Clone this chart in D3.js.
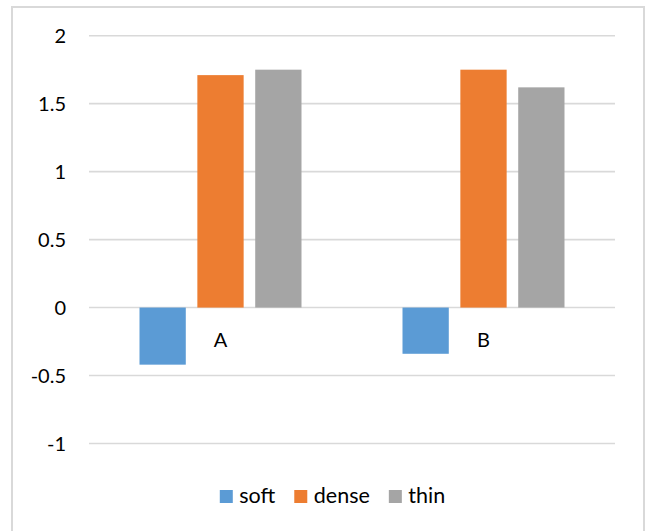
<!DOCTYPE html>
<html>
<head>
<meta charset="utf-8">
<script src="https://cdn.jsdelivr.net/npm/d3@7"></script>
<style>
  html, body { margin: 0; padding: 0; background: #fff; }
  svg { display: block; font-family: Lato, "Open Sans", sans-serif; }
</style>
</head>
<body>
<svg id="chart" width="646" height="531"></svg>
<script>
// Chart data
const categories = ["A", "B"];
const seriesNames = ["soft", "dense", "thin"];
const softValues = [-0.42, -0.34];
const denseValues = [1.71, 1.75];
const thinValues = [1.75, 1.62];
const yTicks = [-1, -0.5, 0, 0.5, 1, 1.5, 2];
const colors = ["#5B9BD5", "#ED7D31", "#A5A5A5"];

const seriesValues = [softValues, denseValues, thinValues];
const rows = categories.map((c, i) => ({
  category: c,
  values: seriesNames.map((s, j) => ({ series: s, value: seriesValues[j][i] }))
}));

const svg = d3.select("#chart");

// Chart frame
svg.append("rect")
  .attr("x", 12).attr("y", 7)
  .attr("width", 632).attr("height", 530)
  .attr("fill", "#fff")
  .attr("stroke", "#D9D9D9")
  .attr("stroke-width", 2);

const plot = { left: 89, right: 615, top: 35.7, bottom: 443.5 };

const y = d3.scaleLinear().domain([-1, 2]).range([plot.bottom, plot.top]);
const x0 = d3.scaleBand().domain(categories).range([plot.left, plot.right]).paddingInner(0).paddingOuter(0);
// Bars 46px wide with ~12px gaps; outer gap ~101px between groups
const groupWidth = 162;
const x1 = d3.scaleBand().domain(seriesNames).range([0, groupWidth]).paddingInner(0.2).paddingOuter(0);

// Gridlines
svg.append("g")
  .selectAll("line")
  .data(yTicks)
  .join("line")
  .attr("x1", plot.left).attr("x2", plot.right)
  .attr("y1", d => y(d)).attr("y2", d => y(d))
  .attr("stroke", "#D9D9D9")
  .attr("stroke-width", 1.6);

// Y axis labels
const yAxis = d3.axisLeft(y).tickValues(yTicks).tickSize(0).tickPadding(0)
  .tickFormat(d => d3.format("")(d).replace("\u2212", "-"));
const gy = svg.append("g").attr("transform", `translate(66,0)`).call(yAxis);
gy.select(".domain").remove();
gy.selectAll("text")
  .attr("font-family", "Lato, 'Open Sans', sans-serif")
  .attr("font-size", 20)
  .attr("fill", "#000")
  .attr("dy", "0.36em");

// Bars
const groups = svg.append("g")
  .selectAll("g")
  .data(rows)
  .join("g")
  .attr("transform", d => `translate(${x0(d.category) + (x0.bandwidth() - groupWidth) / 2},0)`);

groups.selectAll("rect")
  .data(d => d.values)
  .join("rect")
  .attr("x", d => x1(d.series))
  .attr("width", x1.bandwidth())
  .attr("y", d => y(Math.max(0, d.value)))
  .attr("height", d => Math.abs(y(d.value) - y(0)))
  .attr("fill", (d, i) => colors[i]);

// Category labels sit just below the zero line
svg.append("g")
  .selectAll("text")
  .data(categories)
  .join("text")
  .attr("x", d => x0(d) + x0.bandwidth() / 2)
  .attr("y", 346.7)
  .attr("text-anchor", "middle")
  .attr("font-size", 20)
  .attr("fill", "#000")
  .text(d => d);

// Legend
const legend = svg.append("g");
const items = legend.selectAll("g")
  .data(seriesNames)
  .join("g");
items.append("rect")
  .attr("width", 13).attr("height", 13)
  .attr("y", 490)
  .attr("fill", (d, i) => colors[i]);
items.append("text")
  .attr("x", 19.5)
  .attr("y", 503)
  .attr("font-size", 21.5)
  .attr("fill", "#000")
  .text(d => d);

let cursor = 0;
const positions = [];
items.each(function () {
  const w = this.querySelector("text").getComputedTextLength();
  positions.push(cursor);
  cursor += 19.5 + w + 19;
});
const legendWidth = cursor - 19;
const legendStart = 332.5 - legendWidth / 2;
items.attr("transform", (d, i) => `translate(${legendStart + positions[i]},0)`);
</script>
</body>
</html>
